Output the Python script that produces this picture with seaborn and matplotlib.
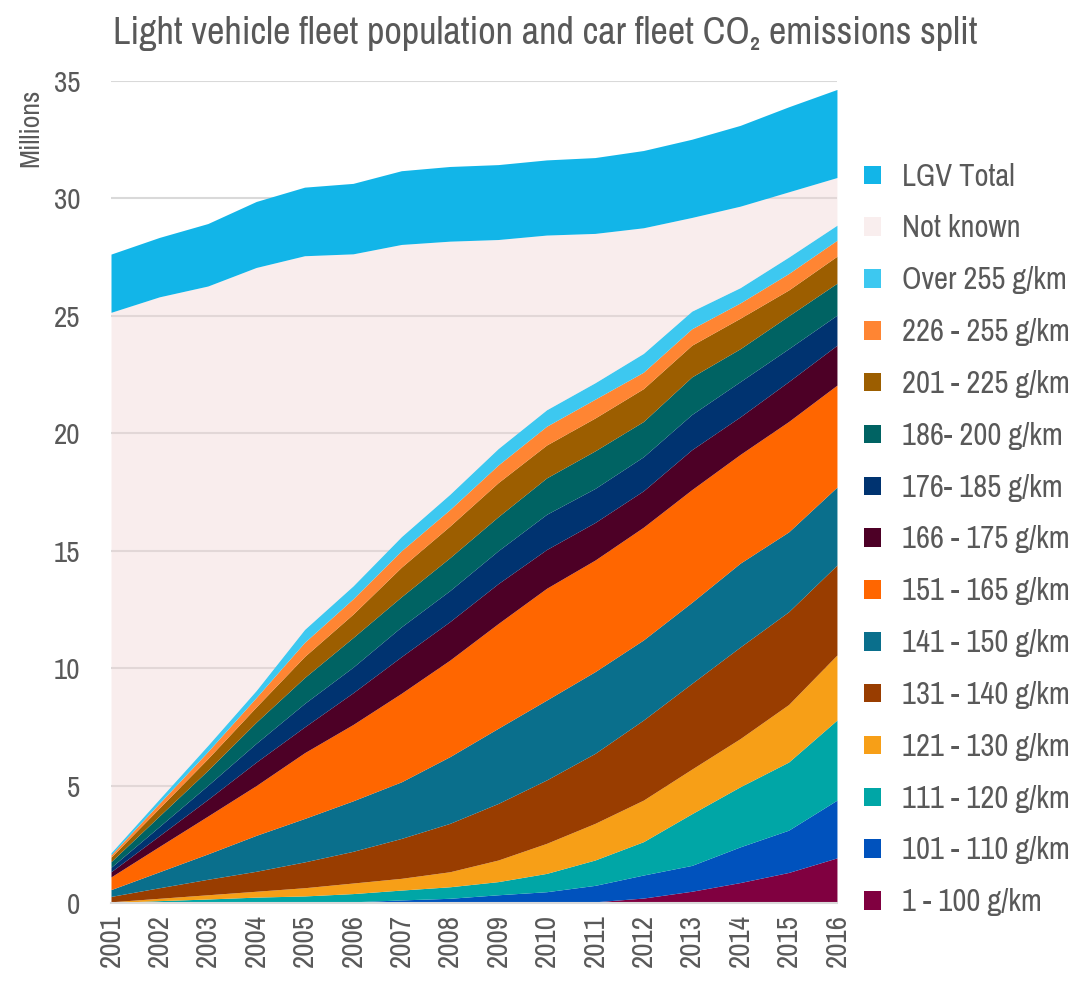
import matplotlib
matplotlib.use("Agg")
import matplotlib.pyplot as plt
from matplotlib.patches import Patch
import seaborn as sns

years = list(range(2001, 2017))

labels = ["1 - 100 g/km", "101 - 110 g/km", "111 - 120 g/km", "121 - 130 g/km",
          "131 - 140 g/km", "141 - 150 g/km", "151 - 165 g/km", "166 - 175 g/km",
          "176- 185 g/km", "186- 200 g/km", "201 - 225 g/km", "226 - 255 g/km",
          "Over 255 g/km", "Not known", "LGV Total"]

g1_100 = [0, 0, 0, 0, 0, 0, 0, 0, 0, 0, 0.05, 0.21, 0.50, 0.87, 1.30, 1.92]
g101_110 = [0, 0.01, 0.01, 0.02, 0.03, 0.05, 0.13, 0.20, 0.35, 0.48, 0.70, 0.98, 1.10, 1.52, 1.80, 2.46]
g111_120 = [0.02, 0.09, 0.16, 0.23, 0.27, 0.35, 0.42, 0.49, 0.56, 0.78, 1.08, 1.42, 2.20, 2.56, 2.90, 3.41]
g121_130 = [0.03, 0.10, 0.18, 0.25, 0.35, 0.45, 0.50, 0.64, 0.92, 1.28, 1.56, 1.77, 1.90, 2.05, 2.45, 2.77]
g131_140 = [0.23, 0.45, 0.66, 0.85, 1.10, 1.35, 1.70, 2.06, 2.41, 2.70, 2.98, 3.41, 3.65, 3.90, 3.95, 3.83]
g141_150 = [0.29, 0.68, 1.08, 1.53, 1.85, 2.15, 2.41, 2.84, 3.20, 3.40, 3.48, 3.41, 3.45, 3.57, 3.40, 3.32]
g151_165 = [0.54, 1.08, 1.61, 2.12, 2.80, 3.25, 3.77, 4.11, 4.46, 4.76, 4.75, 4.80, 4.80, 4.63, 4.70, 4.34]
g166_175 = [0.22, 0.46, 0.71, 1.00, 1.10, 1.35, 1.56, 1.64, 1.70, 1.65, 1.60, 1.55, 1.70, 1.60, 1.70, 1.70]
g176_185 = [0.19, 0.39, 0.60, 0.80, 1.00, 1.09, 1.27, 1.32, 1.40, 1.50, 1.45, 1.45, 1.50, 1.50, 1.40, 1.28]
g186_200 = [0.24, 0.45, 0.64, 0.90, 1.10, 1.26, 1.28, 1.40, 1.45, 1.55, 1.60, 1.50, 1.60, 1.40, 1.40, 1.36]
g201_225 = [0.19, 0.34, 0.50, 0.65, 0.90, 1.00, 1.26, 1.35, 1.45, 1.40, 1.40, 1.40, 1.35, 1.30, 1.10, 1.15]
g226_255 = [0.10, 0.20, 0.30, 0.40, 0.60, 0.65, 0.70, 0.70, 0.75, 0.80, 0.80, 0.70, 0.70, 0.65, 0.70, 0.68]
over_255 = [0.09, 0.18, 0.26, 0.30, 0.55, 0.55, 0.60, 0.65, 0.70, 0.70, 0.70, 0.80, 0.75, 0.65, 0.70, 0.64]
not_known = [23.01, 21.38, 19.56, 18.01, 15.91, 14.14, 12.44, 10.78, 8.90, 7.44, 6.36, 5.35, 3.99, 3.47, 2.78, 2.03]
lgv_total = [2.48, 2.53, 2.66, 2.81, 2.92, 3.00, 3.14, 3.18, 3.19, 3.20, 3.23, 3.29, 3.33, 3.44, 3.62, 3.75]

series = [g1_100, g101_110, g111_120, g121_130, g131_140, g141_150, g151_165,
          g166_175, g176_185, g186_200, g201_225, g226_255, over_255, not_known, lgv_total]

colors = ["#800040", "#0052BD", "#00A6A6", "#F79F17", "#993D00", "#0A6F8C", "#FF6600",
          "#4D0026", "#003370", "#006363", "#9C5E00", "#FF8533", "#3DC8F0",
          (240/255, 212/255, 212/255, 0.40), "#12B5E8"]
legend_colors = colors[:13] + ["#F9EEEE", "#12B5E8"]

sns.set_theme(style="white")
fam = ["Arial Narrow", "Liberation Sans Narrow", "Archivo Narrow", "PT Sans Narrow",
       "Roboto Condensed", "Open Sans Condensed", "Liberation Sans", "DejaVu Sans"]
plt.rcParams["font.family"] = fam

grey = "#595959"
fig = plt.figure(figsize=(10.84, 9.83), dpi=100)
ax = fig.add_axes([0.1024, 0.0814, 0.6697, 0.8362])

ax.stackplot(years, *series, colors=colors, linewidth=0, zorder=2)

ax.set_xlim(2001, 2016)
ax.set_ylim(0, 35)
ax.set_yticks(range(0, 36, 5))
ax.set_xticks(years)
ax.set_xticklabels([str(y) for y in years], rotation=90)
ax.tick_params(axis="both", length=0, labelsize=21, colors=grey)
ax.tick_params(axis="y", pad=22)
ax.tick_params(axis="x", pad=8)
ax.set_axisbelow(True)
ax.yaxis.grid(True, color="#D9D9D9", linewidth=1.5, zorder=1)
ax.xaxis.grid(False)
sns.despine(ax=ax, left=True, top=True, right=True)
ax.spines["bottom"].set_color("#D9D9D9")
ax.spines["bottom"].set_linewidth(1.5)

fig.text(0.104, 0.955, "Light vehicle fleet population and car fleet CO\u2082 emissions split",
         fontsize=27.5, color=grey, ha="left", va="baseline")
fig.text(0.028, 0.91, "Millions", rotation=90, fontsize=20, color=grey, ha="center", va="top")

handles = [Patch(facecolor=c, edgecolor="none") for c in legend_colors][::-1]
leg = fig.legend(handles, labels[::-1], loc="upper left", bbox_to_anchor=(0.786, 0.847),
                 frameon=False, fontsize=22, labelcolor=grey, labelspacing=0.78,
                 handlelength=0.55, handleheight=0.55, handletextpad=0.7, borderaxespad=0)

fig.savefig("out.png", dpi=100)
